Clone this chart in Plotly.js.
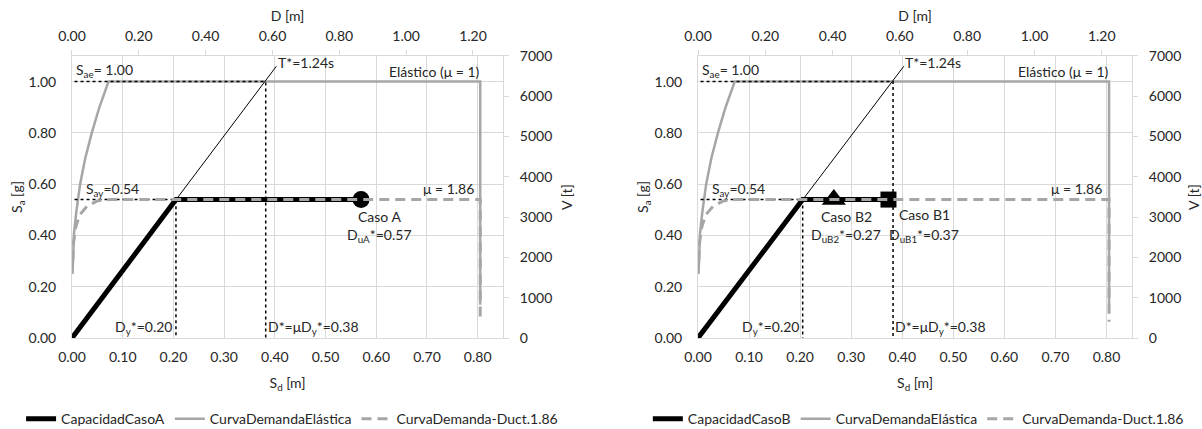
<!DOCTYPE html>
<html>
<head>
<meta charset="utf-8">
<script src="https://cdn.plot.ly/plotly-3.0.1.min.js"></script>
<style>html,body{margin:0;padding:0;background:#fff;}#chart{width:1202px;height:429px;}</style>
</head>
<body>
<div id="chart"></div>
<script>
// ---- data ----
const capASd = [0, 0.205, 0.57];
const capASa = [0, 0.54, 0.54];
const capBSd = [0, 0.205, 0.37];
const capBSa = [0, 0.54, 0.54];

const elasticSd = [0.001, 0.004, 0.009, 0.016, 0.026, 0.039, 0.054, 0.072, 0.805, 0.805];
const elasticSa = [0.25, 0.41, 0.50, 0.60, 0.70, 0.80, 0.90, 1.00, 1.00, 0.13];

const ductSd = [0.0015, 0.003, 0.007, 0.015, 0.030, 0.050, 0.075, 0.805, 0.805];
const ductSa = [0.30, 0.37, 0.43, 0.48, 0.515, 0.535, 0.54, 0.54, 0.063];

const periodSd = [0, 0.403];
const periodSa = [0, 1.06];

const saeGuideSd = [0.005, 0.382, 0.382];
const saeGuideSa = [1.00, 1.00, 0.00];
const sayGuideSd = [0.005, 0.205, 0.205];
const sayGuideSa = [0.54, 0.54, 0.00];

const caseASd = [0.57];  const caseASa = [0.54];
const caseB1Sd = [0.373]; const caseB1Sa = [0.54];
const caseB2Sd = [0.266]; const caseB2Sa = [0.54];

const names = ['CapacidadCasoA', 'CapacidadCasoB', 'CurvaDemandaElástica', 'CurvaDemanda-Duct.1.86'];

// ---- styling ----
const FONT = 'Lato, "Open Sans", sans-serif';
const TXT = '#262626';
const GRID = '#d9d9d9';
const GRAY = '#a6a6a6';

function panel(xa, ya, leg, capSd, capSa, capName, markers) {
  const t = [];
  t.push({x: capSd, y: capSa, xaxis: xa, yaxis: ya, mode: 'lines', name: capName, legend: leg,
          line: {color: '#000', width: 5}});
  t.push({x: elasticSd, y: elasticSa, xaxis: xa, yaxis: ya, mode: 'lines', name: names[2], legend: leg,
          line: {color: GRAY, width: 2.5}});
  t.push({x: periodSd, y: periodSa, xaxis: xa, yaxis: ya, mode: 'lines', showlegend: false,
          line: {color: '#000', width: 1}});
  t.push({x: saeGuideSd, y: saeGuideSa, xaxis: xa, yaxis: ya, mode: 'lines', showlegend: false,
          line: {color: '#000', width: 1.5, dash: 'dot'}});
  t.push({x: sayGuideSd, y: sayGuideSa, xaxis: xa, yaxis: ya, mode: 'lines', showlegend: false,
          line: {color: '#000', width: 1.5, dash: 'dot'}});
  markers.forEach(m => t.push({x: m.x, y: m.y, xaxis: xa, yaxis: ya, mode: 'markers', showlegend: false,
          marker: {symbol: m.s, size: m.size, color: '#000'}}));
  t.push({x: ductSd, y: ductSa, xaxis: xa, yaxis: ya, mode: 'lines', name: names[3], legend: leg,
          line: {color: GRAY, width: 3, dash: '10px,6px'}});
  return t;
}

const traces = [].concat(
  panel('x', 'y', 'legend', capASd, capASa, names[0],
        [{x: caseASd, y: caseASa, s: 'circle', size: 17}]),
  panel('x3', 'y3', 'legend2', capBSd, capBSa, names[1],
        [{x: caseB2Sd, y: caseB2Sa, s: 'triangle-up', size: 21},
         {x: caseB1Sd, y: caseB1Sa, s: 'square', size: 16}]),
  [{x: [], y: [], xaxis: 'x2', yaxis: 'y2', mode: 'lines', showlegend: false},
   {x: [], y: [], xaxis: 'x4', yaxis: 'y4', mode: 'lines', showlegend: false}]
);

const tickFont = {family: FONT, size: 14, color: TXT};
const titleFont = {family: FONT, size: 14, color: TXT};
const yDom = [0.2121, 0.8695];

function sdAxis(dom, anchor) {
  return {domain: dom, anchor: anchor, range: [0, 0.85], dtick: 0.1, tick0: 0, tickformat: '.2f',
          showgrid: true, gridcolor: GRID, gridwidth: 1, zeroline: false, showline: true, linecolor: GRID,
          ticks: '', ticklabelstandoff: 6, tickfont: tickFont,
          title: {text: 'S<sub>d</sub> [m]', font: titleFont, standoff: 14}};
}
function dAxis(over, anchor) {
  return {overlaying: over, anchor: anchor, side: 'top', range: [0, 1.29], dtick: 0.2, tick0: 0, tickformat: '.2f',
          showgrid: false, zeroline: false, showline: true, linecolor: GRID,
          ticks: 'outside', ticklen: 5, tickcolor: GRID, ticklabelstandoff: 3, tickfont: tickFont,
          title: {text: 'D [m]', font: titleFont, standoff: 2}};
}
function saAxis(anchor) {
  return {domain: yDom, anchor: anchor, range: [0, 1.1], dtick: 0.2, tick0: 0, tickformat: '.2f',
          showgrid: true, gridcolor: GRID, gridwidth: 1, zeroline: false, showline: true, linecolor: GRID,
          ticks: '', ticklabelstandoff: 12, tickfont: tickFont,
          title: {text: 'S<sub>a</sub> [g]', font: titleFont, standoff: 2}};
}
function vAxis(over, anchor) {
  return {overlaying: over, anchor: anchor, side: 'right', range: [0, 7000], dtick: 1000, tick0: 0,
          showgrid: false, zeroline: false, showline: true, linecolor: GRID,
          ticks: 'outside', ticklen: 5, tickcolor: GRID, ticklabelstandoff: 8, tickfont: tickFont,
          title: {text: 'V [t]', font: titleFont, standoff: 10}};
}

function ann(xr, yr, x, y, text, xanchor) {
  return {xref: xr, yref: yr, x: x, y: y, text: text, showarrow: false, xanchor: xanchor, yanchor: 'middle',
          font: {family: FONT, size: 14, color: TXT}};
}
function commonAnns(xr, yr) {
  return [
    ann(xr, yr, 0.004, 1.043, 'S<sub>ae</sub>= 1.00', 'left'),
    ann(xr, yr, 0.402, 1.074, 'T*=1.24s', 'left'),
    ann(xr, yr, 0.808, 1.040, 'Elástico (μ = 1)', 'right'),
    ann(xr, yr, 0.024, 0.578, 'S<sub>ay</sub>=0.54', 'left'),
    ann(xr, yr, 0.796, 0.582, 'μ = 1.86', 'right'),
    ann(xr, yr, 0.201, 0.040, 'D<sub>y</sub>*=0.20', 'right'),
    ann(xr, yr, 0.382, 0.040, 'D*=μD<sub>y</sub>*=0.38', 'left')
  ];
}

const annotations = [].concat(
  commonAnns('x', 'y'),
  [ann('x', 'y', 0.607, 0.473, 'Caso A', 'center'),
   ann('x', 'y', 0.607, 0.398, 'D<sub>uA</sub>*=0.57', 'center')],
  commonAnns('x3', 'y3'),
  [ann('x3', 'y3', 0.290, 0.473, 'Caso B2', 'center'),
   ann('x3', 'y3', 0.290, 0.398, 'D<sub>uB2</sub>*=0.27', 'center'),
   ann('x3', 'y3', 0.390, 0.480, 'Caso B1', 'left'),
   ann('x3', 'y3', 0.370, 0.398, 'D<sub>uB1</sub>*=0.37', 'left')]
);

const legendBase = {orientation: 'h', yanchor: 'middle', y: 0.023, xanchor: 'center',
                    font: {family: FONT, size: 14, color: TXT}, bgcolor: 'rgba(0,0,0,0)',
                    itemwidth: 30, traceorder: 'normal'};

const layout = {
  width: 1202, height: 429,
  margin: {l: 0, r: 0, t: 0, b: 0, autoexpand: false},
  paper_bgcolor: '#fff', plot_bgcolor: '#fff',
  font: {family: FONT, color: TXT},
  xaxis: sdAxis([0.0599, 0.4185], 'y'),
  xaxis2: dAxis('x', 'y'),
  yaxis: saAxis('x'),
  yaxis2: vAxis('y', 'x'),
  xaxis3: sdAxis([0.5807, 0.9418], 'y3'),
  xaxis4: dAxis('x3', 'y3'),
  yaxis3: saAxis('x3'),
  yaxis4: vAxis('y3', 'x3'),
  legend: Object.assign({}, legendBase, {x: 0.243}),
  legend2: Object.assign({}, legendBase, {x: 0.764}),
  annotations: annotations,
  showlegend: true
};

Plotly.newPlot('chart', traces, layout, {displayModeBar: false, staticPlot: true});
</script>
</body>
</html>
